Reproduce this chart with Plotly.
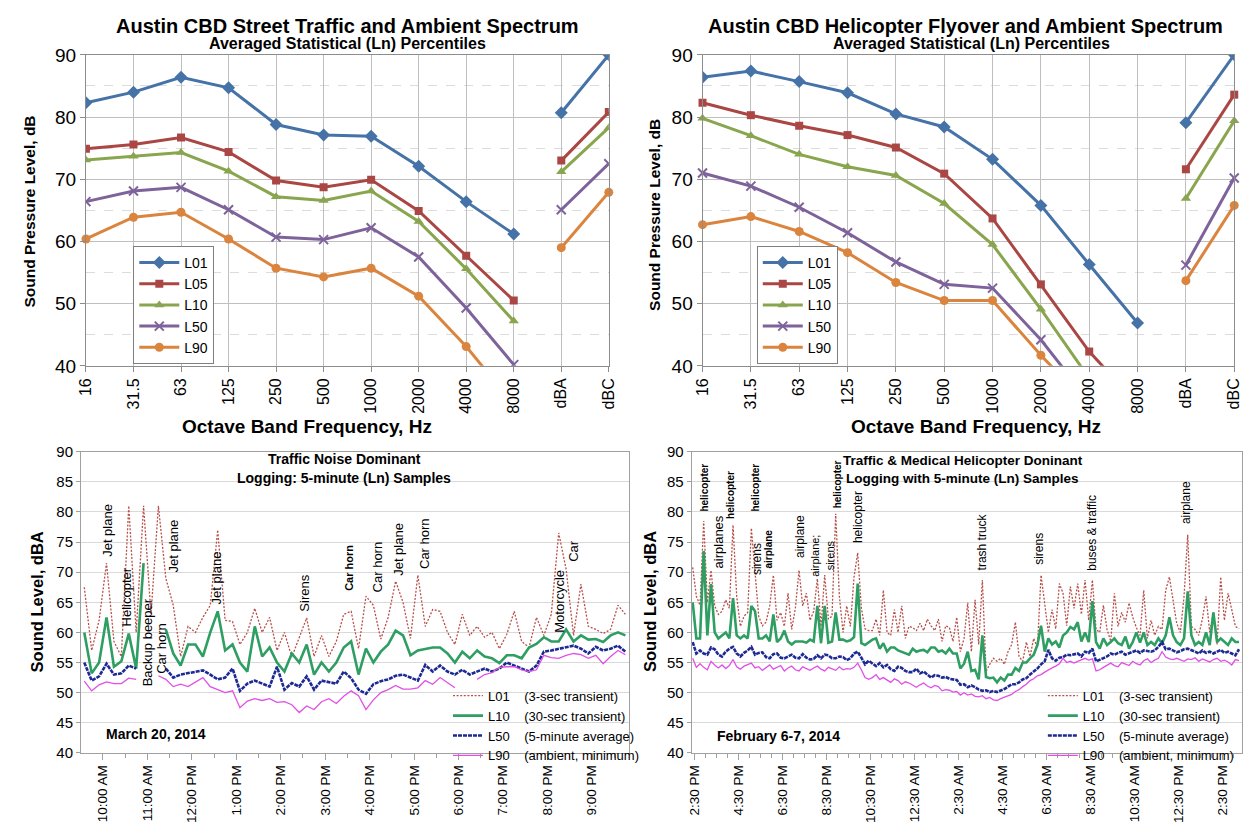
import plotly.graph_objects as go
import pandas as pd

# ---------------- data: octave band spectra ----------------
bands = ["16", "31.5", "63", "125", "250", "500", "1000", "2000", "4000", "8000", "dBA", "dBC"]

street_L01 = [82.3, 84.0, 86.4, 84.7, 78.8, 77.1, 76.9, 72.1, 66.4, 61.2, 80.7, 90.0]
street_L05 = [74.9, 75.6, 76.7, 74.4, 69.8, 68.7, 69.9, 64.9, 57.7, 50.5, 73.0, 80.8]
street_L10 = [73.1, 73.7, 74.3, 71.3, 67.2, 66.6, 68.1, 63.2, 55.6, 47.2, 71.2, 78.3]
street_L50 = [66.4, 68.1, 68.7, 65.1, 60.7, 60.3, 62.2, 57.5, 49.3, 40.2, 65.1, 72.5]
street_L90 = [60.4, 63.9, 64.7, 60.4, 55.7, 54.3, 55.7, 51.2, 43.1, 33.8, 59.0, 67.9]

heli_L01 = [86.4, 87.4, 85.7, 83.9, 80.5, 78.4, 73.2, 65.8, 56.3, 46.9, 79.1, 90.0]
heli_L05 = [82.3, 80.3, 78.6, 77.1, 75.1, 70.9, 63.7, 53.1, 42.3, 33.9, 71.6, 83.6]
heli_L10 = [79.8, 77.0, 74.0, 72.0, 70.6, 66.1, 59.5, 49.1, 38.0, 30.0, 66.9, 79.4]
heli_L50 = [71.0, 68.9, 65.5, 61.4, 56.7, 53.1, 52.5, 44.2, 34.3, 28.0, 56.2, 70.2]
heli_L90 = [62.7, 64.0, 61.6, 58.2, 53.4, 50.5, 50.5, 41.7, 33.6, 27.0, 53.7, 65.8]

# ---------------- data: logged time histories (10-minute samples) ----------------
left_start = "2014-03-20 09:35"
left_L01 = [67.5, 57, 62, 71.5, 58.5, 56, 81, 60, 81, 63, 81, 69, 64.5, 56, 61, 60, 62.5, 64.5, 77, 62,
            61.8, 58, 60, 64, 60, 62.5, 57, 60, 55.9, 59, 62.4, 56, 59.5, 56, 58.5, 63, 63.5, 57.3, 66, 64.5,
            58.9, 62.5, 68.5, 65, 59, 69.5, 61, 63.8, 63.5, 60, 58, 63, 59.5, 61, 59.2, 60, 57.3, 59.7, 63.5, 58.5,
            57.5, 62.5, 59.5, 63, 76.5, 70.5, 59.5, 68, 61, 60.5, 59.8, 60.5, 64.5, 63]
left_L10 = [60, 53.2, 55, 62.5, 54.3, 55.2, 59.8, 54, 71.5, None, None, 60.5, 56.5, 54.5, 58, 58, 56, 60, 63.5, 57,
            58, 55, 53.5, 61, 56, 57.5, 55, 53.5, 56.5, 55, 58, 53, 55, 53.5, 55, 57.5, 58.5, 53, 57.3, 55,
            56.8, 58, 60.3, 59.5, 56.2, 57, 57.3, 57.5, 57.5, 56.5, 55, 56.8, 55.7, 57, 56, 55.7, 54.9, 56.2, 56.2, 55.7,
            57.5, 58.1, 59.2, 58.5, 58.5, 60.5, 58.5, 59.5, 58.8, 58.9, 58.4, 59.5, 60, 59.5]
left_L50 = [55, 52, 52.7, 54.8, 53, 53.2, 54.5, 54, None, None, None, 54, 52.5, 53, 53.2, 53.5, 53.7, 53, 52.2, 52.5,
            54, 50.3, 51.5, 52, 51.5, 51, 54.3, 50.5, 51.6, 51, 52.7, 50.5, 52, 51.8, 51.5, 53.5, 52.4, 50.5, 49.8, 51.4,
            51.9, 52.2, 52.8, 53, 52.5, 52, 54.6, 53.5, 54.5, 53.5, 53, 53.8, 53, 53.5, 54, 53.5, 54, 55, 54.5, 54.1,
            53.5, 54.5, 56.8, 57, 57.3, 57.6, 57.8, 57.3, 56.5, 57.6, 57, 57.3, 57.8, 56.8]
left_L90 = [51.9, 50.3, 51.3, 51.8, 51.5, 51.5, 52.4, 52.2, None, None, 52.8, 52.2, 51, 51.4, 51, 51.8, 52.5, 51, 50.5, 50,
            50.3, 47.5, 48.6, 49, 48.7, 49, 48.4, 48.5, 48, 46.7, 47.8, 47.2, 48.5, 49, 48.2, 49.4, 50.3, 49.5, 47.2, 48.8,
            50, 50.5, 51.2, 50.6, 50.6, 50.8, 52, 51.4, 52.5, 51.6, 50.8, None, None, 52.2, 53, 53.3, 54.2, 54.3, 54.3, 53.8,
            53.5, 53.8, 56.2, 55.8, 55.7, 56.2, 56.5, 56.3, 55.7, 56.2, 54.8, 56, 57, 56.3]

right_start = "2014-02-06 14:25"
right_L01 = [70.8, 66, 64.5, 78.5, 65, 70.3, 64.4, 63, 63.5, 65.4, 64, 77.8, 66, 61, 62.7, 63.3, 77.3, 69.7, 62.7, 61.1,
             61.7, 64.4, 69.5, 62, 63.3, 61, 66.5, 60.5, 64, 70.3, 64.4, 66.5, 62, 63.5, 68.9, 61, 69.5, 62.2, 62.7, 79.7,
             66, 60, 64.4, 61, 69.2, 73.2, 64, 60.6, 60.3, 60.3, 62.2, 59.5, 67, 60, 59.5, 63.8, 60, 64.4, 59, 61,
             60.8, 60.3, 61.5, 60.3, 62.2, 61.1, 60.3, 62.2, 58.5, 61.1, 60.8, 58.5, 62.5, 56.8, 59, 64.9, 56.8, 65.4, 58, 68.7,
             53.5, 54.7, 55.7, 55.2, 55.7, 54.7, 56.8, 58, 61.7, 56, 55.2, 58.4, 56, 59, 57.5, 69.5, 64.9, 60, 63.8, 60.6,
             68.1, 66.5, 61.1, 67.6, 64, 68.1, 63, 68.7, 62, 68.7, 60.5, 60, 64.5, 60.5, 58.5, 66.5, 61, 63.3, 61.7, 64.9,
             62.5, 60.8, 59.5, 67, 59, 62, 59.5, 61, 60.5, 67, 69.2, 65, 61.5, 60, 66, 76.2, 61, 60.5, 59.5, 62.2,
             66, 60, 63.3, 58, 69.2, 62, 66.5, 63.8, 61, 60.6]
right_L10 = [65, 59, 59, 73.5, 59.5, 68, 60, 59, 59.5, 60, 59, 65.7, 59.5, 59, 59.5, 59, 64.4, 63.5, 59, 59,
             59.5, 58.5, 63, 58.4, 59, 60.3, 58.5, 58, 58.5, 58.5, 58.5, 58.3, 58.8, 58.5, 64.4, 58.2, 64.4, 58.3, 58.5, 63.3,
             58.8, 58.8, 58.5, 58.7, 59.2, 68.1, 58.2, 57.9, 58.3, 58.8, 59, 57.3, 58.2, 56.8, 57.5, 57.5, 57, 56.8, 56.5, 56.3,
             57.3, 56.8, 57, 57.1, 56.7, 57.5, 57.5, 56.8, 57, 56.5, 57.3, 56.5, 56.5, 54, 54.8, 56.8, 53.6, 53.8, 52.2, 59.5,
             52.6, 52.4, 52.5, 51.7, 52.5, 52, 53, 53, 54.1, 53.6, 55, 55, 55.7, 56.3, 57.9, 61.1, 56.8, 59, 58, 58.5,
             57.5, 59.5, 60, 60.9, 60.5, 61.7, 58.5, 60, 58.4, 65.2, 58.4, 57.3, 59, 57.9, 58.4, 59, 58.2, 57.9, 59.3, 57.3,
             58.4, 60, 58.3, 60, 57.9, 58.4, 57.9, 59, 58.2, 59.5, 62.5, 59.5, 58.4, 57.9, 59, 66.8, 59.5, 57.9, 58.4, 57.9,
             60, 57.9, 63.3, 58.4, 59, 58.4, 57.9, 59, 58.4, 58.4]
right_L50 = [58.4, 56.5, 57, 56.5, 56.3, 57.5, 57.2, 56.3, 56, 56.8, 57.3, 57.6, 56.5, 56, 56.6, 57, 57.6, 56.3, 56.6, 56.7,
             55.9, 55.7, 56.4, 56.5, 55.8, 55.7, 56, 56.3, 55.8, 55.7, 56.4, 55.8, 55.5, 55.6, 56.2, 55.7, 56.3, 56.2, 55.7, 55.7,
             56, 55.9, 55.4, 55.7, 56.5, 56.8, 55.8, 54.7, 55.3, 54.9, 54.4, 54.9, 54.2, 54.6, 53.9, 53.6, 54.3, 54.1, 53.6, 53.4,
             53.4, 54, 53.2, 53.5, 53, 52.5, 52.9, 52.8, 52.5, 52.6, 52.3, 52.2, 52.1, 51.3, 51.4, 50.9, 51.2, 50.9, 50.5, 50.3,
             50.4, 50.1, 50.3, 50.1, 50.3, 50.6, 51, 51.4, 51.4, 51.7, 52.2, 52.4, 53, 53.5, 54, 54.7, 55.2, 57.1, 55.7, 55.3,
             55.8, 55.9, 56.3, 56.2, 56.3, 56.5, 56, 56.8, 56.6, 57.3, 55.2, 55.5, 55.8, 56, 56.5, 56.3, 56.6, 56.8, 56.3, 56.5,
             56.8, 57, 56.6, 57, 56.9, 56.8, 57, 57.6, 58.4, 57.2, 57.3, 57, 56.7, 56.9, 57.2, 57.3, 57.1, 56.8, 56.5, 57,
             56.6, 56.8, 56.5, 56.8, 57.1, 56.6, 56.8, 56.5, 56.2, 57.2]
right_L90 = [55.7, 54.2, 54.8, 54.2, 53.8, 55.2, 54.6, 54.1, 54.6, 54, 54.5, 55.5, 54.3, 53.9, 54.4, 54.7, 54.9, 54.1, 54.3, 53.7,
             54.2, 54.6, 53.9, 54.2, 54.5, 53.6, 54.1, 54.4, 53.8, 53.6, 54.3, 54, 53.7, 54.1, 54.4, 53.9, 53.6, 54.2, 54, 53.7,
             54.3, 53.8, 54, 53.9, 54.2, 54.9, 53.8, 52.5, 52.2, 52.5, 53, 52.2, 52.5, 52.1, 51.7, 52.3, 52, 51.4, 51.8, 51.6,
             51.2, 50.9, 51.3, 51.6, 51.1, 50.8, 51.2, 51, 50.3, 50.5, 50.4, 50.1, 50.2, 49.6, 50, 49.6, 49.8, 49.4, 49.3, 49.5,
             49, 49.2, 48.8, 48.7, 49, 49.2, 49.5, 49.7, 50.2, 50.5, 51, 51.4, 52, 52.3, 52.8, 53, 53.4, 53.8, 54.1, 54.4,
             54.8, 55.7, 55, 55.2, 54.9, 55.2, 55.5, 55.7, 55.4, 55.6, 53.6, 53.8, 54.2, 54.6, 54.9, 54.5, 54.3, 55, 54.7, 54.5,
             55.2, 54.8, 54.6, 55.3, 55.6, 55, 55.4, 55.7, 56.8, 55.9, 55.6, 55.5, 55.7, 55.4, 55.2, 55.6, 55.5, 55.8, 55.2, 55.6,
             55.4, 55.1, 55.5, 55.7, 55.2, 55.4, 55.1, 54.6, 55.5, 55.3]

# event labels (text, time, level, font size, bold)
left_events = [
    ("Jet plane", "2014-03-20 10:06", 76.9, 13, False),
    ("Helicopter", "2014-03-20 10:32", 65.9, 13, False),
    ("Backup beeper", "2014-03-20 11:00", 58.4, 13, False),
    ("Car horn", "2014-03-20 11:20", 57.3, 13, False),
    ("Jet plane", "2014-03-20 11:35", 74.3, 13, False),
    ("Jet plane", "2014-03-20 12:33", 69.0, 13, False),
    ("Sirens", "2014-03-20 14:32", 66.5, 13, False),
    ("Car horn", "2014-03-20 15:32", 70.7, 11, True),
    ("Car horn", "2014-03-20 16:10", 70.8, 13, False),
    ("Jet plane", "2014-03-20 16:39", 73.8, 13, False),
    ("Car horn", "2014-03-20 17:13", 74.8, 13, False),
    ("Motorcycle", "2014-03-20 20:15", 65.2, 13, False),
    ("Car", "2014-03-20 20:34", 73.5, 13, False),
]
right_events = [
    ("helicopter", "2014-02-06 14:58", 84.0, 10, True),
    ("airplanes", "2014-02-06 15:34", 75.1, 13, False),
    ("helicopter", "2014-02-06 16:08", 82.9, 10, True),
    ("helicopter", "2014-02-06 17:17", 84.0, 10, True),
    ("sirens", "2014-02-06 17:22", 72.1, 12, False),
    ("airplane", "2014-02-06 17:51", 73.8, 10, True),
    ("airplane", "2014-02-06 19:16", 75.9, 12, False),
    ("airplane;<br>sirens", "2014-02-06 20:19", 72.8, 11, False),
    ("helicopter", "2014-02-06 20:59", 84.6, 10, True),
    ("helicopter", "2014-02-06 21:58", 79.1, 12, False),
    ("trash truck", "2014-02-07 03:35", 75.0, 12, False),
    ("sirens", "2014-02-07 06:11", 73.8, 12, False),
    ("buses & traffic", "2014-02-07 08:35", 76.6, 12, False),
    ("airplane", "2014-02-07 12:51", 81.5, 12, False),
]

# ---------------- styling ----------------
W, H = 1260, 838
FONT = "Liberation Sans, Arial, sans-serif"
NARROW = "Liberation Sans Narrow, Arial Narrow, Liberation Sans, sans-serif"

spec_styles = [
    ("L01", "#4572A7", "diamond", 10),
    ("L05", "#AA4643", "square", 8),
    ("L10", "#89A54E", "triangle-up", 9),
    ("L50", "#7E639B", "x-thin", 9),
    ("L90", "#DB843D", "circle", 9),
]
log_styles = [
    ("L01\u00a0\u00a0\u00a0 (3-sec transient)", "#B8504A", 1.3, "2px,1.6px"),
    ("L10\u00a0\u00a0\u00a0 (30-sec transient)", "#2E9E62", 2.6, "solid"),
    ("L50\u00a0\u00a0\u00a0 (5-minute average)", "#1E2A94", 2.6, "4px,1px"),
    ("L90\u00a0\u00a0\u00a0 (ambient, minimum)", "#E24FE6", 1.3, "solid"),
]

fig = go.Figure()


def add_spectrum(series, xa, ya, legend):
    for (name, color, symbol, size), vals in zip(spec_styles, series):
        xs = bands[:10] + [None] + bands[10:]
        ys = vals[:10] + [None] + vals[10:]
        marker = dict(symbol=symbol, size=size, color=color)
        if symbol == "x-thin":
            marker["line"] = dict(color=color, width=2)
        fig.add_trace(go.Scatter(
            x=xs, y=ys, name=name, mode="lines+markers",
            line=dict(color=color, width=3), marker=marker,
            xaxis=xa, yaxis=ya, legend=legend,
            cliponaxis=not any(v < 40 for v in vals),
        ))


add_spectrum([street_L01, street_L05, street_L10, street_L50, street_L90], "x", "y", "legend")
add_spectrum([heli_L01, heli_L05, heli_L10, heli_L50, heli_L90], "x2", "y2", "legend2")


def add_log(start, series, xa, ya, legend):
    times = pd.date_range(start, periods=len(series[0]), freq="10min")
    for (name, color, width, dash), vals in zip(log_styles, series):
        fig.add_trace(go.Scatter(
            x=times, y=vals, name=name, mode="lines",
            line=dict(color=color, width=width, dash=dash),
            xaxis=xa, yaxis=ya, legend=legend, connectgaps=False,
        ))


add_log(left_start, [left_L01, left_L10, left_L50, left_L90], "x3", "y3", "legend3")
add_log(right_start, [right_L01, right_L10, right_L50, right_L90], "x4", "y4", "legend4")


def px(v):
    return v / W


def py(v):
    return 1 - v / H


# ---------------- axes ----------------
top_y = [py(365), py(46)]
bot_y = [py(762), py(453)]

spec_x = dict(type="category", categoryorder="array", categoryarray=bands, range=[0, 11],
              showgrid=True, gridcolor="#BFBFBF", gridwidth=1, showline=True, linecolor="#8C8C8C",
              mirror=True, ticks="outside", ticklen=5, tickcolor="#8C8C8C", tickangle=-90,
              tickfont=dict(family=FONT, size=16, color="black"), zeroline=False)
spec_y = dict(range=[40, 90], dtick=10, showgrid=True, gridcolor="#BFBFBF", showline=True,
              linecolor="#8C8C8C", mirror=True, ticks="outside", ticklen=5, tickcolor="#8C8C8C",
              tickfont=dict(family=FONT, size=19, color="black"), zeroline=False,
              minor=dict(dtick=5, showgrid=True, gridcolor="#DCDCDC", griddash="dash"))

log_y = dict(range=[40, 90], dtick=5, showgrid=True, gridcolor="#D9D9D9", showline=True,
             linecolor="#A0A0A0", mirror=True, ticks="outside", ticklen=4, tickcolor="#A0A0A0",
             tickfont=dict(family=NARROW, size=15, color="black"), zeroline=False)


def log_x(rng, tick0, dtick):
    return dict(type="date", range=rng, tick0=tick0, dtick=dtick, tickformat="%-I:%M %p",
                showgrid=False, showline=True, linecolor="#A0A0A0", mirror=True,
                ticks="outside", ticklen=6, tickcolor="#A0A0A0", tickangle=-90,
                tickfont=dict(family=NARROW, size=13.5, color="black"), zeroline=False,
                minor=dict(dtick=1800000, ticks="outside", ticklen=4, tickcolor="#A0A0A0"))


fig.update_layout(
    xaxis=dict(spec_x, domain=[px(78), px(608)], anchor="y"),
    yaxis=dict(spec_y, domain=top_y, anchor="x"),
    xaxis2=dict(spec_x, domain=[px(703), px(1242)], anchor="y2"),
    yaxis2=dict(spec_y, domain=top_y, anchor="x2"),
    xaxis3=dict(log_x(["2014-03-20 09:30:36", "2014-03-20 21:49:12"], "2014-03-20 10:00", 3600000),
                domain=[px(73), px(628)], anchor="y3"),
    yaxis3=dict(log_y, domain=bot_y, anchor="x3"),
    xaxis4=dict(log_x(["2014-02-06 14:22:12", "2014-02-07 15:23:24"], "2014-02-06 14:30", 7200000),
                domain=[px(692), px(1250)], anchor="y4"),
    yaxis4=dict(log_y, domain=bot_y, anchor="x4"),
)

# ---------------- legends ----------------
spec_leg = dict(xanchor="left", yanchor="bottom", y=py(363), bgcolor="white",
                bordercolor="#7F7F7F", borderwidth=1, tracegroupgap=0, itemwidth=40,
                font=dict(family=FONT, size=14, color="black"))
log_leg = dict(xanchor="left", yanchor="top", y=py(688), bgcolor="rgba(0,0,0,0)",
               borderwidth=0, tracegroupgap=0, itemwidth=30,
               font=dict(family=NARROW, size=13, color="black"))
fig.update_layout(
    legend=dict(spec_leg, x=px(126)),
    legend2=dict(spec_leg, x=px(758)),
    legend3=dict(log_leg, x=px(445)),
    legend4=dict(log_leg, x=px(1048)),
)

# ---------------- text ----------------
ann = []


def text(x, y, s, size, family=FONT, bold=True, angle=0, xanchor="center"):
    ann.append(dict(x=x, y=y, xref="paper", yref="paper", text=f"<b>{s}</b>" if bold else s,
                    showarrow=False, textangle=angle, xanchor=xanchor, yanchor="middle",
                    font=dict(family=family, size=size, color="black")))


text(px(343), py(16), "Austin CBD Street Traffic and Ambient Spectrum", 20)
text(px(343), py(34), "Averaged Statistical (Ln) Percentiles", 16)
text(px(970), py(16), "Austin CBD Helicopter Flyover and Ambient Spectrum", 20)
text(px(976), py(34), "Averaged Statistical (Ln) Percentiles", 16)
text(px(302), py(427), "Octave Band Frequency, Hz", 19)
text(px(980), py(427), "Octave Band Frequency, Hz", 19)
text(px(21), py(207), "Sound Pressure Level, dB", 15.5, angle=-90)
text(px(655), py(210), "Sound Pressure Level, dB", 15.5, angle=-90)
text(px(28), py(607), "Sound Level, dBA", 16.5, angle=-90)
text(px(650), py(607), "Sound Level, dBA", 16.5, angle=-90)
text(px(340), py(461), "Traffic Noise Dominant", 14, family=NARROW)
text(px(340), py(480), "Logging: 5-minute (Ln) Samples", 14, family=NARROW)
text(px(967), py(462), "Traffic & Medical Helicopter Doninant", 13.5, family=NARROW)
text(px(967), py(481), "Logging with 5-minute (Ln) Samples", 13.5, family=NARROW)
text(px(96), py(743), "March 20, 2014", 14, family=NARROW, xanchor="left")
text(px(716), py(745), "February 6-7, 2014", 14, family=NARROW, xanchor="left")

for events, xr, yr in [(left_events, "x3", "y3"), (right_events, "x4", "y4")]:
    for label, t, v, size, bold in events:
        ann.append(dict(x=t, y=v, xref=xr, yref=yr, text=f"<b>{label}</b>" if bold else label,
                        showarrow=False, textangle=-90, xanchor="center", yanchor="middle",
                        font=dict(family=FONT, size=size, color="black")))

fig.update_layout(
    annotations=ann,
    width=W, height=H,
    margin=dict(l=0, r=0, t=0, b=0),
    paper_bgcolor="white", plot_bgcolor="white",
    showlegend=True,
)

fig.write_html("out.html", config={"displayModeBar": False},
               post_script="document.body.style.margin='0px';document.body.style.overflow='hidden';")
